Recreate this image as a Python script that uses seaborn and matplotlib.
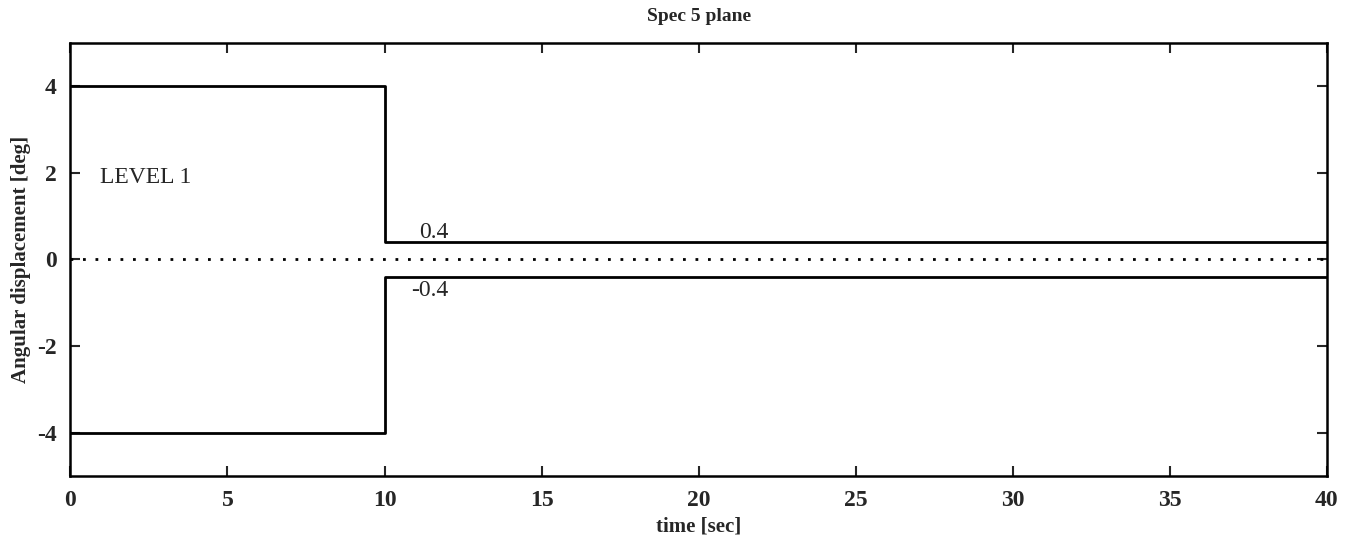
import numpy as np
import pandas as pd
import matplotlib
matplotlib.use("Agg")
import matplotlib.pyplot as plt
import seaborn as sns

# step limits of the level 1 spec
t = [0, 10, 40]
upper = [4, 0.4, 0.4]
lower = [-4, -0.4, -0.4]
zero_t = [0, 40]
zero_v = [0, 0]

xticks = [0, 5, 10, 15, 20, 25, 30, 35, 40]
yticks = [-4, -2, 0, 2, 4]

sns.set_theme(style="ticks")
plt.rcParams['font.family'] = ['Liberation Serif', 'DejaVu Serif']
plt.rcParams['font.weight'] = 'bold'
plt.rcParams['axes.titleweight'] = 'bold'
plt.rcParams['axes.labelweight'] = 'bold'
plt.rcParams['axes.unicode_minus'] = False

df = pd.DataFrame({"t": t + t, "v": upper + lower,
                   "bound": ["upper"] * 3 + ["lower"] * 3})

fig, ax = plt.subplots(figsize=(13.54, 5.44), dpi=100)
fig.subplots_adjust(left=0.052, right=0.980, top=0.921, bottom=0.125)

sns.lineplot(data=df, x="t", y="v", units="bound", estimator=None,
             color="black", linewidth=2, drawstyle="steps-post", ax=ax)
sns.lineplot(x=zero_t, y=zero_v, color="black", linewidth=2,
             linestyle=(0, (1, 3.5)), ax=ax)

ax.text(0.95, 1.9, "LEVEL 1", fontsize=17, fontweight="normal",
        va="center", ha="left")
ax.text(11.1, 0.62, "0.4", fontsize=17, fontweight="normal",
        va="center", ha="left")
ax.text(10.85, -0.72, "-0.4", fontsize=17, fontweight="normal",
        va="center", ha="left")

ax.set_xlim(0, 40)
ax.set_ylim(-5, 5)
ax.set_xticks(xticks)
ax.set_yticks(yticks)
ax.tick_params(direction="in", top=True, right=True, length=7, width=1.5,
               labelsize=17, pad=10)
for s in ax.spines.values():
    s.set_linewidth(1.8)
    s.set_color("black")

ax.set_title("Spec 5 plane", fontsize=14, pad=16)
ax.set_xlabel("time [sec]", fontsize=15, labelpad=4)
ax.set_ylabel("Angular displacement [deg]", fontsize=15, labelpad=4)

fig.savefig("out.png", dpi=100)
